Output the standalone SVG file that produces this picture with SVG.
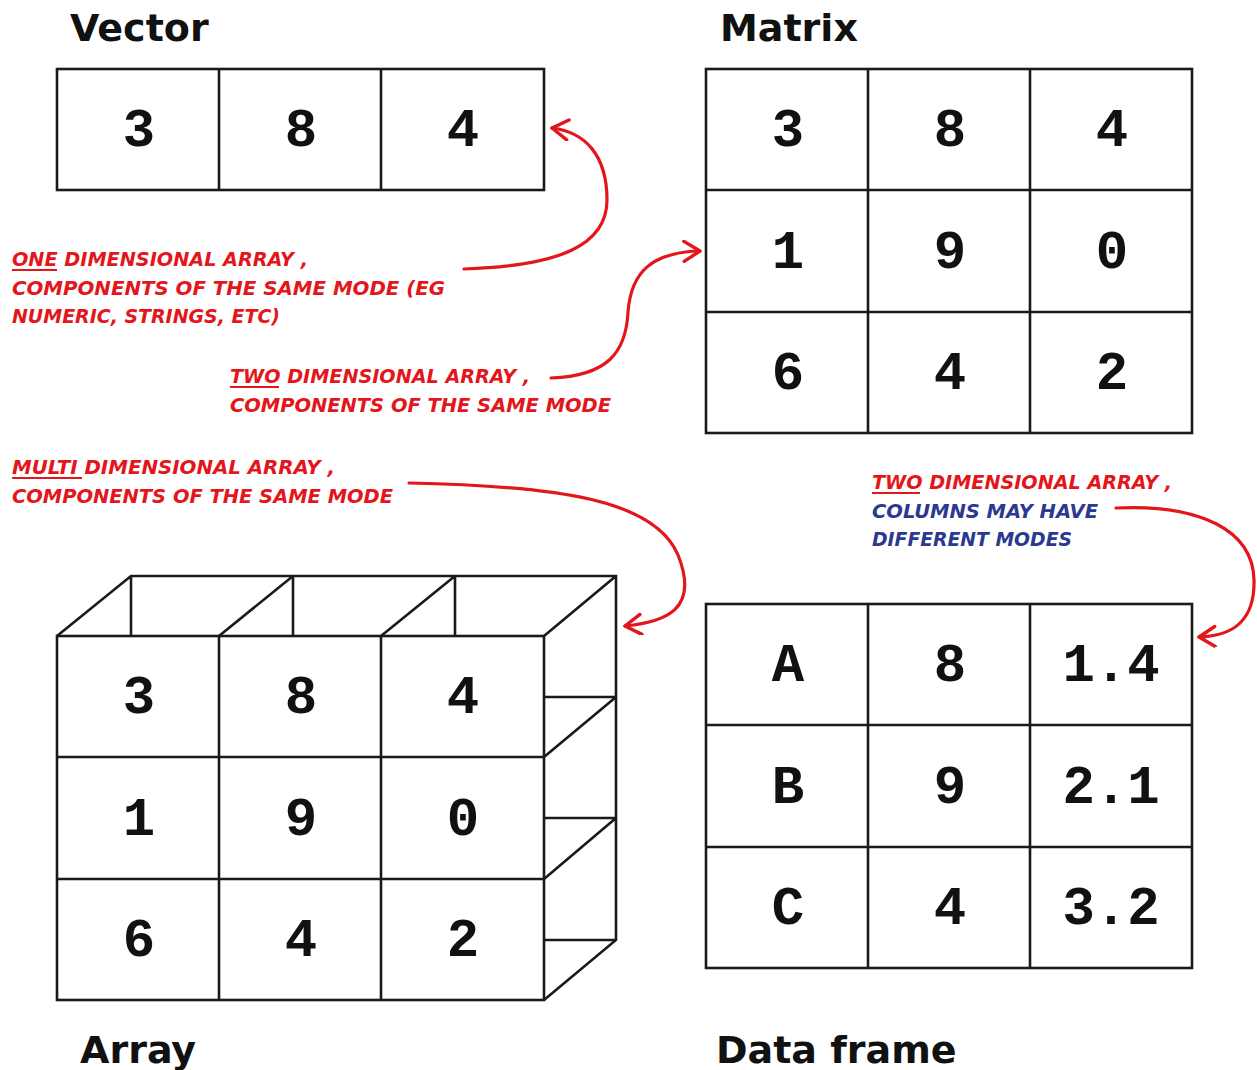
<svg xmlns="http://www.w3.org/2000/svg" width="1257" height="1070" viewBox="0 0 1257 1070">
<style>
.grid{fill:none;stroke:#1a1a1a;stroke-width:2.6;stroke-linejoin:miter}
.num{font-family:"Liberation Mono","Courier New",monospace;font-weight:bold;font-size:54px;fill:#111;text-anchor:middle}
.title{font-family:"DejaVu Sans",Verdana,sans-serif;font-weight:bold;font-size:38px;fill:#111}
.note{font-family:"DejaVu Sans Condensed","DejaVu Sans",sans-serif;font-weight:bold;font-style:italic;font-size:20px}
.red{fill:#e3161b}
.blue{fill:#2b3990}
.ul{stroke:#e3161b;stroke-width:1.8}
.conn{fill:none;stroke:#e3161b;stroke-width:3.2;stroke-linecap:round}
</style>
<defs>
<marker id="ah" markerUnits="userSpaceOnUse" markerWidth="30" markerHeight="30" refX="18" refY="11" orient="auto" viewBox="0 0 30 30">
<path d="M2,1 L18,11 L2,21" fill="none" stroke="#e3161b" stroke-width="3.4" stroke-linecap="round" stroke-linejoin="round"/>
</marker>
</defs>
<rect width="1257" height="1070" fill="#fff"/>

<g id="vector">
<text class="title" x="70" y="41">Vector</text>
<rect class="grid" x="57" y="69" width="487" height="121"/>
<path class="grid" d="M219,69V190M381,69V190"/>
<text class="num" x="139" y="146">3</text>
<text class="num" x="301" y="146">8</text>
<text class="num" x="463" y="146">4</text>
</g>

<g id="matrix">
<text class="title" x="720" y="41">Matrix</text>
<rect class="grid" x="706" y="69" width="486" height="364"/>
<path class="grid" d="M868,69V433M1030,69V433M706,190H1192M706,312H1192"/>
<text class="num" x="788" y="146">3</text>
<text class="num" x="950" y="146">8</text>
<text class="num" x="1112" y="146">4</text>
<text class="num" x="788" y="268">1</text>
<text class="num" x="950" y="268">9</text>
<text class="num" x="1112" y="268">0</text>
<text class="num" x="788" y="389">6</text>
<text class="num" x="950" y="389">4</text>
<text class="num" x="1112" y="389">2</text>
</g>

<g id="array">
<path class="grid" d="M57,636L131,576H616V940L544,1000M219,636L293,576M381,636L455,576M544,636L616,576M131,576V636M293,576V636M455,576V636M544,697H616M544,757L616,697M544,818H616M544,879L616,818M544,940H616"/>
<rect class="grid" x="57" y="636" width="487" height="364"/>
<path class="grid" d="M219,636V1000M381,636V1000M57,757H544M57,879H544"/>
<text class="num" x="139" y="713">3</text>
<text class="num" x="301" y="713">8</text>
<text class="num" x="463" y="713">4</text>
<text class="num" x="139" y="835">1</text>
<text class="num" x="301" y="835">9</text>
<text class="num" x="463" y="835">0</text>
<text class="num" x="139" y="956">6</text>
<text class="num" x="301" y="956">4</text>
<text class="num" x="463" y="956">2</text>
<text class="title" x="80" y="1063">Array</text>
</g>

<g id="dataframe">
<rect class="grid" x="706" y="604" width="486" height="364"/>
<path class="grid" d="M868,604V968M1030,604V968M706,725H1192M706,847H1192"/>
<text class="num" x="788" y="681">A</text>
<text class="num" x="950" y="681">8</text>
<text class="num" x="1111" y="681">1.4</text>
<text class="num" x="788" y="803">B</text>
<text class="num" x="950" y="803">9</text>
<text class="num" x="1111" y="803">2.1</text>
<text class="num" x="788" y="924">C</text>
<text class="num" x="950" y="924">4</text>
<text class="num" x="1111" y="924">3.2</text>
<text class="title" x="716" y="1063">Data frame</text>
</g>

<g id="note-vector">
<text class="note red" x="12" y="266" textLength="296" lengthAdjust="spacingAndGlyphs">ONE DIMENSIONAL ARRAY ,</text>
<text class="note red" x="12" y="295" textLength="433" lengthAdjust="spacingAndGlyphs">COMPONENTS OF THE SAME MODE (EG</text>
<text class="note red" x="12" y="323" textLength="268" lengthAdjust="spacingAndGlyphs">NUMERIC, STRINGS, ETC)</text>
<line class="ul" x1="12" y1="270" x2="57" y2="270"/>
</g>

<g id="note-matrix">
<text class="note red" x="230" y="383" textLength="300" lengthAdjust="spacingAndGlyphs">TWO DIMENSIONAL ARRAY ,</text>
<text class="note red" x="230" y="412" textLength="381" lengthAdjust="spacingAndGlyphs">COMPONENTS OF THE SAME MODE</text>
<line class="ul" x1="230" y1="387" x2="279" y2="387"/>
</g>

<g id="note-array">
<text class="note red" x="12" y="474" textLength="323" lengthAdjust="spacingAndGlyphs">MULTI DIMENSIONAL ARRAY ,</text>
<text class="note red" x="12" y="503" textLength="381" lengthAdjust="spacingAndGlyphs">COMPONENTS OF THE SAME MODE</text>
<line class="ul" x1="12" y1="478" x2="82" y2="478"/>
</g>

<g id="note-dataframe">
<text class="note red" x="872" y="489" textLength="300" lengthAdjust="spacingAndGlyphs">TWO DIMENSIONAL ARRAY ,</text>
<text class="note blue" x="872" y="518" textLength="226" lengthAdjust="spacingAndGlyphs">COLUMNS MAY HAVE</text>
<text class="note blue" x="872" y="546" textLength="200" lengthAdjust="spacingAndGlyphs">DIFFERENT MODES</text>
<line class="ul" x1="872" y1="493" x2="920" y2="493"/>
</g>

<g id="connectors">
<path class="conn" marker-end="url(#ah)" d="M464,269C560,266 607,245 607,200C607,155 585,132 552,128"/>
<path class="conn" marker-end="url(#ah)" d="M551,378C608,376 626,352 628,312C631,272 652,252 700,251"/>
<path class="conn" marker-end="url(#ah)" d="M409,483C560,486 655,500 678,555C700,610 665,622 625,626"/>
<path class="conn" marker-end="url(#ah)" d="M1116,508C1200,504 1253,530 1254,580C1255,622 1232,636 1199,637"/>
</g>
</svg>
